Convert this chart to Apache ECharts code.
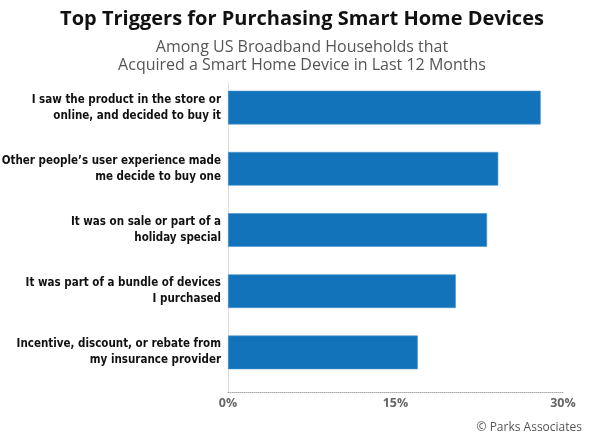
<!DOCTYPE html>
<html>
<head>
<meta charset="utf-8">
<script src="https://cdn.jsdelivr.net/npm/echarts@6/dist/echarts.min.js"></script>
<style>
html,body{margin:0;padding:0;background:#fff;}
#chart{width:604px;height:433px;}
</style>
</head>
<body>
<div id="chart"></div>
<script>
const titleText = "Top Triggers for Purchasing Smart Home Devices";
const subtitleText = "Among US Broadband Households that\nAcquired a Smart Home Device in Last 12 Months";
const sourceText = "© Parks Associates";
const categories = [
  "I saw the product in the store or\nonline, and decided to buy it",
  "Other people’s user experience made\nme decide to buy one",
  "It was on sale or part of a\nholiday special",
  "It was part of a bundle of devices\nI purchased",
  "Incentive, discount, or rebate from\nmy insurance provider"
];
const values = [28.0, 24.2, 23.2, 20.4, 17.0];
const axisMin = 0, axisMax = 30, axisStep = 15;

const chart = echarts.init(document.getElementById('chart'), null, {renderer: 'canvas'});
chart.setOption({
  animation: false,
  backgroundColor: '#fff',
  title: [
    {text: titleText, left: 'center', top: 4,
     textStyle: {fontFamily: 'Open Sans', fontWeight: 'bold', fontSize: 20, color: '#111'}},
    {text: subtitleText, left: 'center', top: 33,
     textStyle: {fontFamily: 'Open Sans', fontWeight: 'normal', fontSize: 16, color: '#555', lineHeight: 18.5}},
    {text: sourceText, right: 17, top: 417,
     textStyle: {fontFamily: 'Open Sans', fontWeight: 'normal', fontSize: 12, color: '#555'}}
  ],
  grid: [
    {left: 228, right: 41, top: 77, height: 306, outerBoundsMode: 'none', containLabel: false},
    {left: 228, right: 41, top: 83, bottom: 41, outerBoundsMode: 'none', containLabel: false}
  ],
  xAxis: [
    {type: 'value', gridIndex: 0, min: axisMin, max: axisMax, interval: axisStep, show: false},
    {type: 'value', gridIndex: 1, min: axisMin, max: axisMax, interval: axisStep,
     axisLine: {show: true, lineStyle: {color: '#aaa', type: 'dotted', width: 1}},
     axisTick: {show: false}, splitLine: {show: false},
     axisLabel: {formatter: '{value}%', margin: 5, fontFamily: 'Open Sans', fontWeight: 'bold', fontSize: 12.5, color: '#666'}}
  ],
  yAxis: [
    {type: 'category', gridIndex: 0, data: categories, inverse: true,
     axisLine: {show: false}, axisTick: {show: false},
     axisLabel: {margin: 7, fontFamily: '"DejaVu Sans"', fontWeight: 'bold condensed', fontSize: 11.5, color: '#111', lineHeight: 16, align: 'right'}},
    {type: 'value', gridIndex: 1, min: 0, max: 1,
     axisLine: {show: true, lineStyle: {color: '#ddd', width: 1}},
     axisTick: {show: false}, axisLabel: {show: false}, splitLine: {show: false}}
  ],
  series: [{
    type: 'bar', xAxisIndex: 0, yAxisIndex: 0, data: values,
    barWidth: '55%',
    itemStyle: {color: '#1273BB', borderColor: '#4a94cc', borderWidth: 0.6}
  }]
});
</script>
</body>
</html>
